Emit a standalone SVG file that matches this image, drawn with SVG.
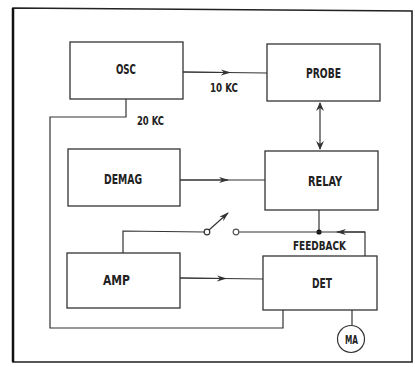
<svg xmlns="http://www.w3.org/2000/svg" width="415" height="367" viewBox="0 0 415 367">
<style>
.box{fill:#fff;stroke:#333;stroke-width:1.3}
.ln{fill:none;stroke:#333;stroke-width:1.2}
.t{font-family:"DejaVu Sans Condensed","Liberation Sans",sans-serif;font-weight:bold;font-size:14px;fill:#222;text-anchor:middle}
.s{font-size:13px}
</style>
<defs>
<marker id="ah" markerWidth="10" markerHeight="8" refX="9" refY="4" orient="auto" markerUnits="userSpaceOnUse">
<path d="M0,1 L10,4 L0,7 L3,4 Z" fill="#333"/>
</marker>
</defs>
<rect x="0" y="0" width="415" height="367" fill="#fff"/>
<path d="M13,362 L13,8 L412,11 L412,362 Z" fill="none" stroke="#222" stroke-width="1.6"/>
<line x1="13" y1="8" x2="13" y2="362" stroke="#111" stroke-width="2.5"/>
<g id="connectors">
<line class="ln" x1="183" y1="72" x2="267" y2="73"/>
<path class="ln" d="M183,72 L230,72.5" marker-end="url(#ah)"/>
<path class="ln" d="M126,99 L126,117 L50,117 L50,328 L283,328 L283,310"/>
<line class="ln" x1="320" y1="103" x2="320" y2="149"/>
<path d="M316,111 L320,102 L324,111 L320,108 Z" fill="#333"/>
<path d="M316,141 L320,150 L324,141 L320,144 Z" fill="#333"/>
<line class="ln" x1="180" y1="180" x2="265" y2="180"/>
<path class="ln" d="M180,180 L228,180" marker-end="url(#ah)"/>
<line class="ln" x1="319" y1="210" x2="319" y2="232"/>
<circle cx="319" cy="232" r="2.6" fill="#111"/>
<path class="ln" d="M365,256 L365,232 L239,232"/>
<path class="ln" d="M365,232 L337,232" marker-end="url(#ah)"/>
<circle cx="236" cy="232" r="2.8" fill="#fff" stroke="#555" stroke-width="1.2"/>
<circle cx="207" cy="232" r="2.8" fill="#fff" stroke="#333" stroke-width="1.2"/>
<path class="ln" d="M204,232 L123,231 L123,253"/>
<path class="ln" d="M209,230 L228,213" marker-end="url(#ah)"/>
<line class="ln" x1="180" y1="278" x2="263" y2="279"/>
<path class="ln" d="M180,278 L226,278.5" marker-end="url(#ah)"/>
<line class="ln" x1="352" y1="310" x2="352" y2="325"/>
</g>
<g id="osc"><rect class="box" x="70" y="42" width="113" height="57"/><text class="t" x="126" y="74" textLength="20" lengthAdjust="spacingAndGlyphs">OSC</text></g>
<g id="probe"><rect class="box" x="267" y="44" width="113" height="57"/><text class="t" x="323.5" y="78" textLength="35" lengthAdjust="spacingAndGlyphs">PROBE</text></g>
<g id="demag"><rect class="box" x="68" y="149" width="112" height="57"/><text class="t" x="123" y="184" textLength="38" lengthAdjust="spacingAndGlyphs">DEMAG</text></g>
<g id="relay"><rect class="box" x="265" y="151" width="113" height="59"/><text class="t" x="325" y="186" textLength="34" lengthAdjust="spacingAndGlyphs">RELAY</text></g>
<g id="amp"><rect class="box" x="67" y="253" width="113" height="55"/><text class="t" x="116.5" y="285" textLength="27" lengthAdjust="spacingAndGlyphs">AMP</text></g>
<g id="det"><rect class="box" x="263" y="256" width="114" height="54"/><text class="t" x="322" y="288" textLength="20" lengthAdjust="spacingAndGlyphs">DET</text></g>
<g id="ma"><circle cx="351" cy="339" r="13.5" fill="#fff" stroke="#333" stroke-width="1.2"/><text class="t s" x="351.5" y="344" textLength="13" lengthAdjust="spacingAndGlyphs">MA</text></g>
<g id="labels">
<text class="t s" x="224" y="92" textLength="28" lengthAdjust="spacingAndGlyphs">10 KC</text>
<text class="t s" x="150.5" y="125" textLength="27" lengthAdjust="spacingAndGlyphs">20 KC</text>
<text class="t s" x="319.5" y="250" textLength="53" lengthAdjust="spacingAndGlyphs">FEEDBACK</text>
</g>
</svg>
